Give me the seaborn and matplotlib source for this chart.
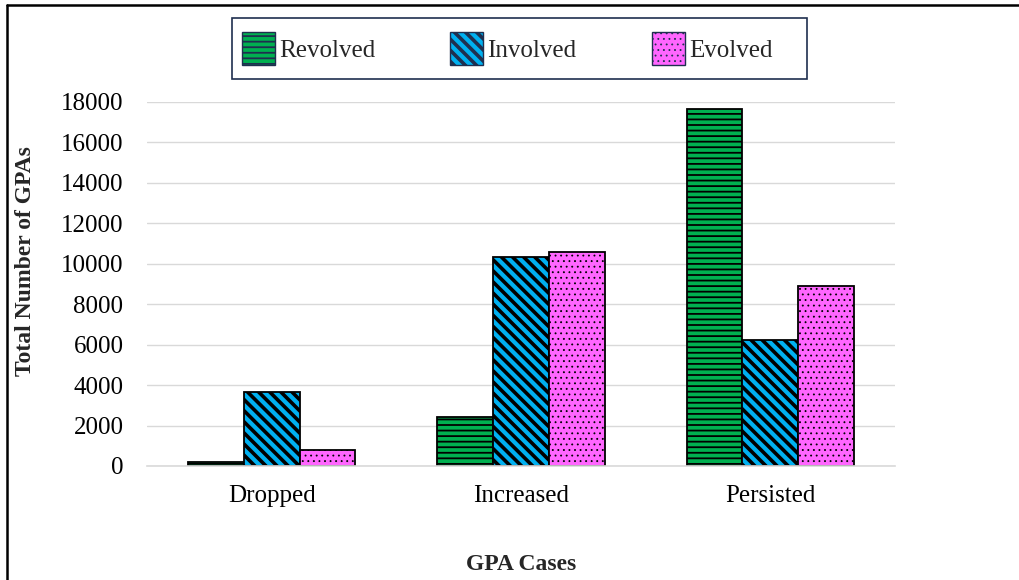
import matplotlib
matplotlib.use("Agg")
import matplotlib.pyplot as plt
import seaborn as sns
import pandas as pd
from matplotlib.patches import Patch, Rectangle
from matplotlib.lines import Line2D

cases = ["Dropped", "Increased", "Persisted"]
series = ["Revolved", "Involved", "Evolved"]
revolved = [200, 2400, 17650]
involved = [3650, 10350, 6250]
evolved = [780, 10600, 8900]

colors = {"Revolved": "#00B050", "Involved": "#00B0F0", "Evolved": "#FF66FF"}
hatches = {"Revolved": "---", "Involved": "\\\\\\", "Evolved": "..."}
hatch_lw = {"Revolved": 1.3, "Involved": 2.6, "Evolved": 0.6}

df = pd.DataFrame({
    "case": cases * 3,
    "series": ["Revolved"] * 3 + ["Involved"] * 3 + ["Evolved"] * 3,
    "value": revolved + involved + evolved,
})

sns.set_theme(style="white")
plt.rcParams["font.family"] = ["Liberation Serif", "DejaVu Serif"]
plt.rcParams["hatch.color"] = "black"
plt.rcParams["hatch.linewidth"] = 1.5

FS = 18
LFS = 17

W, H = 1019, 580
fig = plt.figure(figsize=(W / 100, H / 100), dpi=100)
ax = fig.add_axes([147 / W, 1 - 466 / H, 748 / W, 364 / H])

sns.barplot(data=df, x="case", y="value", hue="series", order=cases,
            hue_order=series, palette=colors, width=0.67, ax=ax,
            edgecolor="black", linewidth=1.3, legend=False, saturation=1)

for name, cont in zip(series, ax.containers):
    for bar in cont:
        bar.set_hatch(hatches[name])
        if hasattr(bar, "set_hatch_linewidth"):
            bar.set_hatch_linewidth(hatch_lw[name])

ax.set_xlim(-0.5, 2.5)
ax.set_ylim(0, 18000)
ax.set_yticks(range(0, 18001, 2000))
ax.yaxis.grid(True, color="#D9D9D9", linewidth=1.0)
ax.set_axisbelow(True)
for s in ["top", "right", "left"]:
    ax.spines[s].set_visible(False)
ax.spines["bottom"].set_color("#D9D9D9")
ax.spines["bottom"].set_linewidth(1.2)
ax.tick_params(axis="y", length=0, pad=17, labelsize=FS, labelcolor="black")
ax.tick_params(axis="x", length=0, pad=14, labelsize=FS, labelcolor="black")

ax.set_xlabel("GPA Cases", fontsize=LFS, fontweight="bold")
ax.set_ylabel("Total Number of GPAs", fontsize=LFS, fontweight="bold",
              va="center")
ax.xaxis.set_label_coords(0.5, -(565 - 466) / 364)
ax.xaxis.label.set_va("center")
ax.yaxis.set_label_coords(-(147 - 26) / 748, (466 - 261) / 364)

# legend entries, with a boxed frame around the legend strip
handles = [Patch(facecolor=colors[n], edgecolor="#1F2F4F", hatch=hatches[n],
                 linewidth=1.0, label=n) for n in series]
leg = fig.legend(handles=handles, loc="center", ncol=3,
                 bbox_to_anchor=(507 / W, 1 - 48.5 / H),
                 fontsize=FS, frameon=False,
                 handlelength=1.32, handleheight=1.65, handletextpad=0.17,
                 columnspacing=3.0, borderpad=0.4, borderaxespad=0)
for h, n in zip(leg.legend_handles, series):
    if hasattr(h, "set_hatch_linewidth"):
        h.set_hatch_linewidth(hatch_lw[n])
fig.patches.append(Rectangle((232 / W, 1 - 79 / H), 575 / W, 61 / H,
                             transform=fig.transFigure, fill=False,
                             edgecolor="#1F2F4F", linewidth=1.2))

# outer chart frame (left and top edges)
fig.add_artist(Line2D([7 / W, 7 / W], [0, 1 - 5 / H], transform=fig.transFigure,
                      color="black", linewidth=1.8))
fig.add_artist(Line2D([7 / W, 1], [1 - 5 / H, 1 - 5 / H], transform=fig.transFigure,
                      color="black", linewidth=1.8))

fig.savefig("out.png", dpi=100)
